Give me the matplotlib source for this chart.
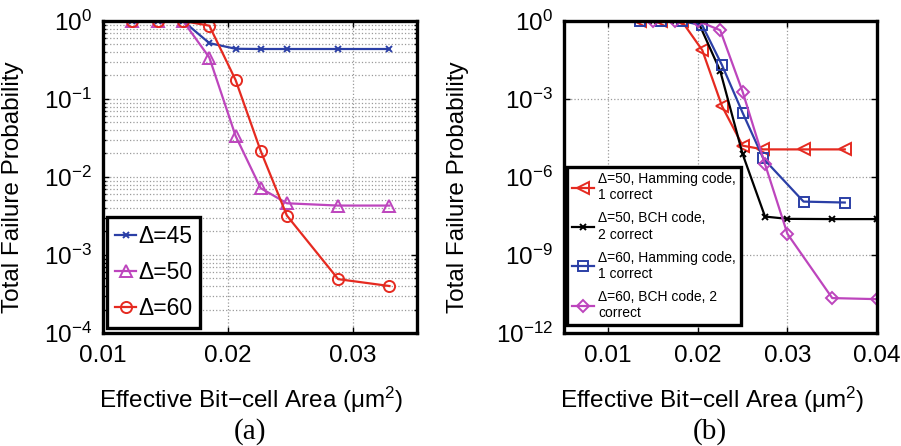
import matplotlib
matplotlib.use("Agg")
import matplotlib.pyplot as plt
from matplotlib.ticker import NullLocator, FixedLocator

plt.rcParams['font.family'] = ['Liberation Sans', 'DejaVu Sans']
plt.rcParams['mathtext.fontset'] = 'custom'
plt.rcParams['mathtext.rm'] = 'Liberation Sans'
plt.rcParams['mathtext.it'] = 'Liberation Sans:italic'

# (a) failure probability without ECC
area_a = [0.0123, 0.0144, 0.0164, 0.0185, 0.0206, 0.0226, 0.0247, 0.0288, 0.0329]
p_d45 = [1.0, 1.0, 1.0, 0.52, 0.44, 0.437, 0.437, 0.437, 0.437]
p_d50 = [1.0, 1.0, 1.0, 0.34, 0.0336, 0.0072, 0.0046, 0.0043, 0.0043]
p_d60 = [1.0, 1.0, 1.0, 0.87, 0.175, 0.0217, 0.0032, 0.00049, 0.0004]

# (b) failure probability with ECC
area_ham = [0.0136, 0.0159, 0.0182, 0.0205, 0.0227, 0.025, 0.0273, 0.0318, 0.0364]
area_bch = [0.015, 0.0175, 0.02, 0.0225, 0.025, 0.0275, 0.03, 0.035, 0.04]
p_d50_ham = [1.0, 1.0, 1.0, 0.075, 5.3e-4, 1.6e-5, 1.15e-5, 1.15e-5, 1.15e-5]
p_d50_bch = [1.0, 1.0, 1.0, 0.012, 7.6e-6, 3.0e-8, 2.45e-8, 2.4e-8, 2.4e-8]
p_d60_ham = [1.0, 1.0, 1.0, 0.68, 0.02, 2.95e-4, 5.2e-6, 1.13e-7, 1.04e-7]
p_d60_bch = [1.0, 1.0, 1.0, 0.44, 1.9e-3, 3.1e-6, 6.5e-9, 2.2e-11, 2.0e-11]

BLUE = '#2b3fa6'
MAGENTA = '#bd45bd'
RED = '#e52a20'
GRID = dict(color='#9a9a9a', linestyle=':', linewidth=0.9)

fig = plt.figure(figsize=(9.01, 4.46), dpi=100)
ax1 = fig.add_axes([0.1143, 0.2534, 0.3485, 0.6996])
ax2 = fig.add_axes([0.6263, 0.2534, 0.3471, 0.6996])


def style_axes(ax):
    for s in ax.spines.values():
        s.set_linewidth(2.4)
    ax.tick_params(which='both', direction='in', top=True, right=True,
                   labelsize=17.5, width=1.0)
    ax.tick_params(which='major', length=4)
    ax.tick_params(which='minor', length=2)
    ax.tick_params(axis='y', pad=8)
    ax.tick_params(axis='x', pad=9)
    ax.set_ylabel('Total Failure Probability', fontsize=17.5)
    ax.set_xlabel('Effective Bit\u2212cell Area (\u03bcm$^2$)', fontsize=17.5)


# ---- panel (a)
ax1.semilogy(area_a, p_d45, '-x', color=BLUE, lw=1.6, ms=5, mew=1.4, label='\u0394=45')
ax1.semilogy(area_a, p_d50, '-^', color=MAGENTA, lw=1.6, ms=8, mfc='none', mew=1.4, label='\u0394=50')
ax1.semilogy(area_a, p_d60, '-o', color=RED, lw=1.6, ms=8, mfc='none', mew=1.4, label='\u0394=60')
ax1.set_xlim(0.01, 0.0351)
ax1.set_ylim(1e-4, 1)
ax1.set_xticks([0.01, 0.02, 0.03])
ax1.set_xticklabels(['0.01', '0.02', '0.03'])
ax1.xaxis.set_minor_locator(NullLocator())
ax1.grid(True, which='major', **GRID)
ax1.grid(True, which='minor', axis='y', **GRID)
style_axes(ax1)
ax1.yaxis.set_label_coords(-0.25, 0.468)
ax1.xaxis.set_label_coords(0.471, -0.165)
leg1 = ax1.legend(loc='lower left', bbox_to_anchor=(0.014, 0.017), fontsize=16.5,
                  handlelength=0.9, handletextpad=0.1, borderpad=0.35,
                  labelspacing=0.55, borderaxespad=0, fancybox=False,
                  framealpha=1, edgecolor='black')
leg1.get_frame().set_linewidth(2.4)

# ---- panel (b)
ax2.semilogy(area_ham, p_d50_ham, '-<', color=RED, lw=1.6, ms=8, mfc='none', mew=1.4,
             label='\u0394=50, Hamming code,\n1 correct')
ax2.semilogy(area_bch, p_d50_bch, '-x', color='black', lw=1.6, ms=5, mew=1.4,
             label='\u0394=50, BCH code,\n2 correct')
ax2.semilogy(area_ham, p_d60_ham, '-s', color=BLUE, lw=1.6, ms=6.5, mfc='none', mew=1.4,
             label='\u0394=60, Hamming code,\n1 correct')
ax2.semilogy(area_bch, p_d60_bch, '-D', color=MAGENTA, lw=1.6, ms=6.5, mfc='none', mew=1.4,
             label='\u0394=60, BCH code, 2\ncorrect')
ax2.set_xlim(0.0051, 0.04)
ax2.set_ylim(1e-12, 1)
ax2.set_xticks([0.01, 0.02, 0.03, 0.04])
ax2.set_xticklabels(['0.01', '0.02', '0.03', '0.04'])
ax2.xaxis.set_minor_locator(NullLocator())
ax2.yaxis.set_major_locator(FixedLocator([1e-12, 1e-9, 1e-6, 1e-3, 1]))
ax2.yaxis.set_minor_locator(NullLocator())
ax2.grid(True, which='major', **GRID)
style_axes(ax2)
ax2.yaxis.set_label_coords(-0.305, 0.468)
ax2.xaxis.set_label_coords(0.472, -0.165)
leg2 = ax2.legend(loc='lower left', bbox_to_anchor=(0.008, 0.026), fontsize=10,
                  handlelength=1.6, handletextpad=0.3, borderpad=0.35,
                  labelspacing=0.65, borderaxespad=0, fancybox=False,
                  framealpha=1, edgecolor='black')
leg2.get_frame().set_linewidth(2.4)

fig.text(250 / 901, 1 - 432 / 446, '(a)', ha='center', va='center',
         fontsize=21, family='Liberation Serif')
fig.text(710 / 901, 1 - 432 / 446, '(b)', ha='center', va='center',
         fontsize=21, family='Liberation Serif')

fig.savefig('out.png', dpi=100)
